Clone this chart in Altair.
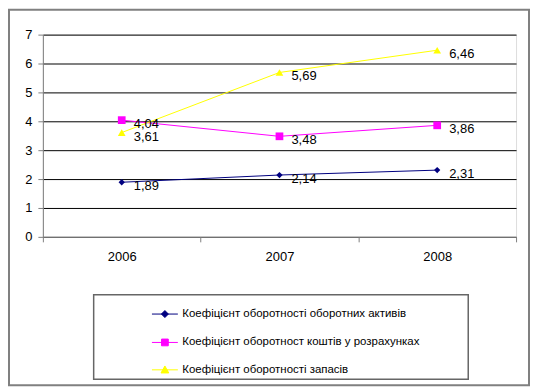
import altair as alt
import pandas as pd

years = ["2006", "2007", "2008"]
series = [
    "Коефіцієнт оборотності оборотних активів",
    "Коефіцієнт оборотност коштів у розрахунках",
    "Коефіцієнт оборотності запасів",
]
assets = [1.89, 2.14, 2.31]
receivables = [4.04, 3.48, 3.86]
inventory = [3.61, 5.69, 6.46]
labels = [
    ["1,89", "2,14", "2,31"],
    ["4,04", "3,48", "3,86"],
    ["3,61", "5,69", "6,46"],
]
colors = ["#000080", "#FF00FF", "#FFFF00"]
shapes = ["diamond", "square", "triangle-up"]
legend_paths = [
    "M-1,0L1,0M0,-0.27L0.27,0L0,0.27L-0.27,0Z",
    "M-1,0L1,0M-0.26,-0.26L0.26,-0.26L0.26,0.26L-0.26,0.26Z",
    "M-1,0L1,0M0,-0.3L0.3,0.24L-0.3,0.24Z",
]
sizes = [40, 60, 60]

rows = []
for s, vals, labs in zip(series, [assets, receivables, inventory], labels):
    for y, v, l in zip(years, vals, labs):
        rows.append({"year": y, "series": s, "value": v, "label": l})
df = pd.DataFrame(rows)

FONT = "Liberation Sans"
W, H = 475, 203

x = alt.X("year:N", title=None,
          scale=alt.Scale(domain=years, paddingInner=0, paddingOuter=0),
          axis=alt.Axis(labelAngle=0, labelFontSize=13, labelColor="black",
                        labelFont=FONT, tickBand="extent", tickColor="#808080",
                        tickSize=5, domainColor="#808080", labelPadding=9,
                        grid=False))
y = alt.Y("value:Q", title=None,
          scale=alt.Scale(domain=[0, 7], nice=False),
          axis=alt.Axis(values=list(range(8)), labelFontSize=13, labelColor="black",
                        labelFont=FONT, tickColor="#808080", tickSize=5,
                        labelPadding=6, domainColor="#808080",
                        grid=True, gridColor="#000000", gridWidth=1))

base = alt.Chart(df)

layers = []
for s, shp, c, sz in zip(series, shapes, colors, sizes):
    sub = base.transform_filter(alt.datum.series == s)
    layers.append(sub.mark_line(strokeWidth=1, color=c).encode(x=x, y=y))
for s, shp, c, sz in zip(series, shapes, colors, sizes):
    sub = base.transform_filter(alt.datum.series == s)
    layers.append(sub.mark_point(shape=shp, filled=True, color=c, size=sz, opacity=1)
                  .encode(x=x, y=y))

texts = base.mark_text(align="left", baseline="middle", dx=12, dy=4,
                       fontSize=13, font=FONT, color="black").encode(
    x=x, y=y, text="label:N")

leg = alt.Legend(title=None, orient="none", legendX=109, legendY=267,
                 symbolSize=676, symbolStrokeWidth=1, labelFont=FONT,
                 labelFontSize=11.5, labelColor="black", labelOffset=4,
                 rowPadding=8.5, padding=0, labelLimit=400)

legend_layer = base.transform_filter("false").mark_point(
    filled=True, opacity=1, strokeWidth=1).encode(
    x=x, y=y,
    shape=alt.Shape("series:N", scale=alt.Scale(domain=series, range=legend_paths), legend=leg),
    fill=alt.Fill("series:N", scale=alt.Scale(domain=series, range=colors), legend=leg),
    stroke=alt.Stroke("series:N", scale=alt.Scale(domain=series, range=colors), legend=leg),
)

one = alt.Data(values=[{"k": 1}])
outer = alt.Chart(one).mark_rect(fillOpacity=0, stroke="#808080", strokeWidth=2).encode(
    x=alt.value(-34), x2=alt.value(488), y=alt.value(-25), y2=alt.value(352))
legbox = alt.Chart(one).mark_rect(fillOpacity=0, stroke="#666666", strokeWidth=1.5).encode(
    x=alt.value(51), x2=alt.value(427), y=alt.value(261), y2=alt.value(346))

chart = alt.layer(outer, legbox, *layers, texts, legend_layer).properties(
    width=W, height=H,
    autosize=alt.AutoSizeParams(type="none"),
    padding={"left": 35, "top": 26, "right": 14, "bottom": 150},
).configure_view(fill="#C0C0C0", stroke="#808080", strokeWidth=1.5).configure(
    background="white")

chart.save("out.html", embed_options={"renderer": "svg", "actions": False})
